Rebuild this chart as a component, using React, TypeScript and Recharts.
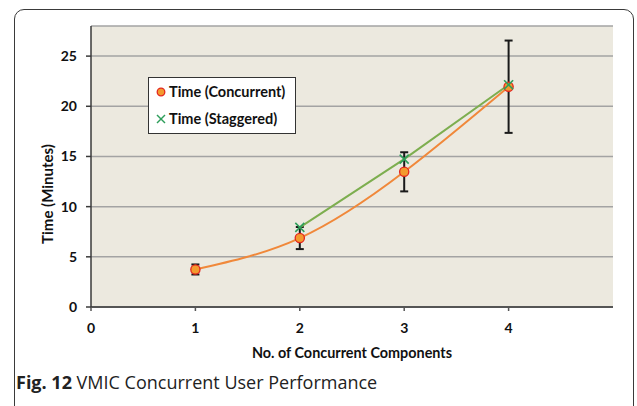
import React from "react";
import { ComposedChart, Line, XAxis, YAxis, CartesianGrid, ErrorBar } from "recharts";

const components = [1, 2, 3, 4];
const concurrentTime = [3.74, 6.87, 13.47, 21.95];
const concurrentError = [0.5, 1.1, 1.95, 4.6];
const staggeredTime: (number | null)[] = [null, 7.94, 14.74, 22.15];
const xTicks = [0, 1, 2, 3, 4];
const yTicks = [0, 5, 10, 15, 20, 25];

const data = components.map((c, i) => ({
  x: c,
  conc: concurrentTime[i],
  concErr: concurrentError[i],
  stag: staggeredTime[i],
}));

const FONT = "Lato, 'Open Sans', sans-serif";
const ORANGE_LINE = "#F0883A";
const ORANGE_FILL = "#F39A2E";
const RED = "#E3261E";
const GREEN_LINE = "#7DAE4F";
const GREEN_MARK = "#2E9E5B";

const CircleDot = (props: any) => {
  const { cx, cy, index } = props;
  if (cx == null || cy == null) return <g key={"c" + index} />;
  return <circle key={"c" + index} cx={cx} cy={cy} r={4.6} fill={ORANGE_FILL} stroke={RED} strokeWidth={1.3} />;
};

const CrossDot = (props: any) => {
  const { cx, cy, index } = props;
  if (cx == null || cy == null) return <g key={"x" + index} />;
  const s = 4.5;
  return (
    <g key={"x" + index}>
      <line x1={cx - s} y1={cy - s} x2={cx + s} y2={cy + s} stroke={GREEN_MARK} strokeWidth={1.6} />
      <line x1={cx - s} y1={cy + s} x2={cx + s} y2={cy - s} stroke={GREEN_MARK} strokeWidth={1.6} />
    </g>
  );
};

const tickStyle = { fontFamily: FONT, fontWeight: 700, fontSize: 14, fill: "#111" };

export default function App() {
  return (
    <div style={{ position: "absolute", left: 0, top: 0, width: 637, height: 406, overflow: "hidden", background: "#fff" }}>
      <div
        style={{
          position: "absolute",
          left: 14,
          top: 9,
          width: 620,
          height: 430,
          border: "1.5px solid #3a3a3a",
          borderRadius: 10,
          boxSizing: "border-box",
        }}
      />
      <div style={{ position: "absolute", left: 0, top: 0 }}>
        <ComposedChart width={637} height={406} data={data} margin={{ top: 26, right: 24, bottom: 69, left: 31 }}>
          <CartesianGrid vertical={false} fill="#ECE9DF" stroke="#A3A3A3" strokeWidth={1.5} />
          <XAxis
            dataKey="x"
            type="number"
            domain={[0, 5]}
            ticks={xTicks}
            height={30}
            axisLine={{ stroke: "#555", strokeWidth: 2 }}
            tickLine={{ stroke: "#555", strokeWidth: 1.5 }}
            tickSize={4}
            tickMargin={12}
            tick={tickStyle}
          />
          <YAxis
            type="number"
            domain={[0, 28]}
            ticks={yTicks}
            width={60}
            axisLine={{ stroke: "#3a3a3a", strokeWidth: 1.5 }}
            tickLine={{ stroke: "#3a3a3a", strokeWidth: 1.5 }}
            tickSize={5}
            tickMargin={9}
            tick={tickStyle}
          />
          <Line
            dataKey="conc"
            type="natural"
            stroke={ORANGE_LINE}
            strokeWidth={2}
            dot={CircleDot}
            activeDot={false}
            isAnimationActive={false}
          >
            <ErrorBar dataKey="concErr" direction="y" width={4} stroke="#1a1a1a" strokeWidth={2} />
          </Line>
          <Line
            dataKey="stag"
            type="linear"
            stroke={GREEN_LINE}
            strokeWidth={2}
            dot={CrossDot}
            activeDot={false}
            isAnimationActive={false}
          />
        </ComposedChart>
      </div>

      {/* Legend */}
      <div
        style={{
          position: "absolute",
          left: 148,
          top: 77,
          width: 148,
          height: 57,
          background: "#fff",
          border: "1px solid #333",
          boxSizing: "border-box",
          fontFamily: FONT,
          fontWeight: 700,
          fontSize: 14.5,
          color: "#111",
        }}
      >
        <div style={{ position: "absolute", left: 7, top: 5, display: "flex", alignItems: "center", whiteSpace: "nowrap" }}>
          <svg width={10} height={10} style={{ marginRight: 3 }}>
            <circle cx={5} cy={5} r={3.8} fill={ORANGE_FILL} stroke={RED} strokeWidth={1.3} />
          </svg>
          <span>Time (Concurrent)</span>
        </div>
        <div style={{ position: "absolute", left: 7, top: 32, display: "flex", alignItems: "center", whiteSpace: "nowrap" }}>
          <svg width={10} height={10} style={{ marginRight: 3 }}>
            <line x1={1} y1={1} x2={9} y2={9} stroke={GREEN_MARK} strokeWidth={1.5} />
            <line x1={1} y1={9} x2={9} y2={1} stroke={GREEN_MARK} strokeWidth={1.5} />
          </svg>
          <span>Time (Staggered)</span>
        </div>
      </div>

      {/* Y axis title */}
      <div
        style={{
          position: "absolute",
          left: 47,
          top: 194,
          transform: "translate(-50%, -50%) rotate(-90deg)",
          fontFamily: FONT,
          fontWeight: 700,
          fontSize: 15,
          color: "#111",
          whiteSpace: "nowrap",
        }}
      >
        Time (Minutes)
      </div>

      {/* X axis title */}
      <div
        style={{
          position: "absolute",
          left: 352,
          top: 352,
          transform: "translate(-50%, -50%)",
          fontFamily: FONT,
          fontWeight: 700,
          fontSize: 14.4,
          color: "#111",
          whiteSpace: "nowrap",
        }}
      >
        No. of Concurrent Components
      </div>

      {/* Caption */}
      <div
        style={{
          position: "absolute",
          left: 16,
          top: 370,
          fontFamily: "'Open Sans', sans-serif",
          fontSize: 18,
          color: "#222",
          whiteSpace: "nowrap",
          lineHeight: "24px",
        }}
      >
        <span style={{ fontWeight: 700 }}>Fig. 12</span> VMIC Concurrent User Performance
      </div>
    </div>
  );
}
